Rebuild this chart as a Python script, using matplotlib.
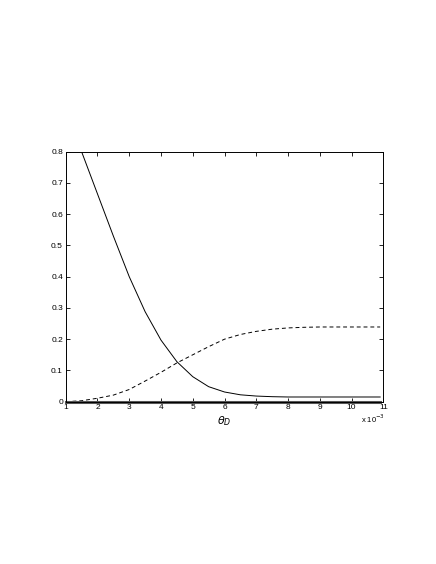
import numpy as np
import matplotlib.pyplot as plt

plt.rcParams['font.family'] = ['Liberation Sans', 'DejaVu Sans']

# theta_D in units of 1e-3
theta = [1.0, 1.5, 2.0, 2.5, 3.0, 3.5, 4.0, 4.5, 5.0, 5.5, 6.0, 6.5, 7.0, 7.5,
         8.0, 8.5, 9.0, 9.5, 10.0, 10.5, 10.9]
solid = [0.95, 0.80, 0.665, 0.53, 0.40, 0.288, 0.197, 0.128, 0.080, 0.048, 0.031,
         0.022, 0.018, 0.016, 0.015, 0.015, 0.015, 0.015, 0.015, 0.015, 0.015]
dashed = [0.0, 0.003, 0.011, 0.021, 0.039, 0.066, 0.094, 0.124, 0.150, 0.176, 0.200,
          0.215, 0.225, 0.232, 0.236, 0.238, 0.239, 0.239, 0.239, 0.239, 0.239]
zero = [0.0] * len(theta)

fig = plt.figure(figsize=(4.36, 5.64), dpi=100)
ax = fig.add_axes([0.1507, 0.2878, 0.7285, 0.4433])

ax.plot(theta, solid, 'k-', lw=0.7)
ax.plot(theta, dashed, 'k--', lw=0.7, dashes=(4, 3))
ax.plot(theta, zero, '-', lw=2.2, color='#555555', clip_on=False)

ax.set_xlim(1, 11)
ax.set_ylim(0, 0.8)
ax.set_xticks(range(1, 12))
ax.set_yticks(np.arange(0, 0.81, 0.1))
ax.set_yticklabels(['0', '0.1', '0.2', '0.3', '0.4', '0.5', '0.6', '0.7', '0.8'])
ax.tick_params(direction='in', length=3, width=0.6, top=True, right=True,
               labelsize=6, pad=2)
for s in ax.spines.values():
    s.set_linewidth(0.7)

ax.set_xlabel(r'$\theta_D$', fontsize=8, labelpad=2)
fig.text(0.829, 0.257, r'x 10$^{-3}$', fontsize=5.5, ha='left', va='center')

fig.savefig('out.png', dpi=100)
